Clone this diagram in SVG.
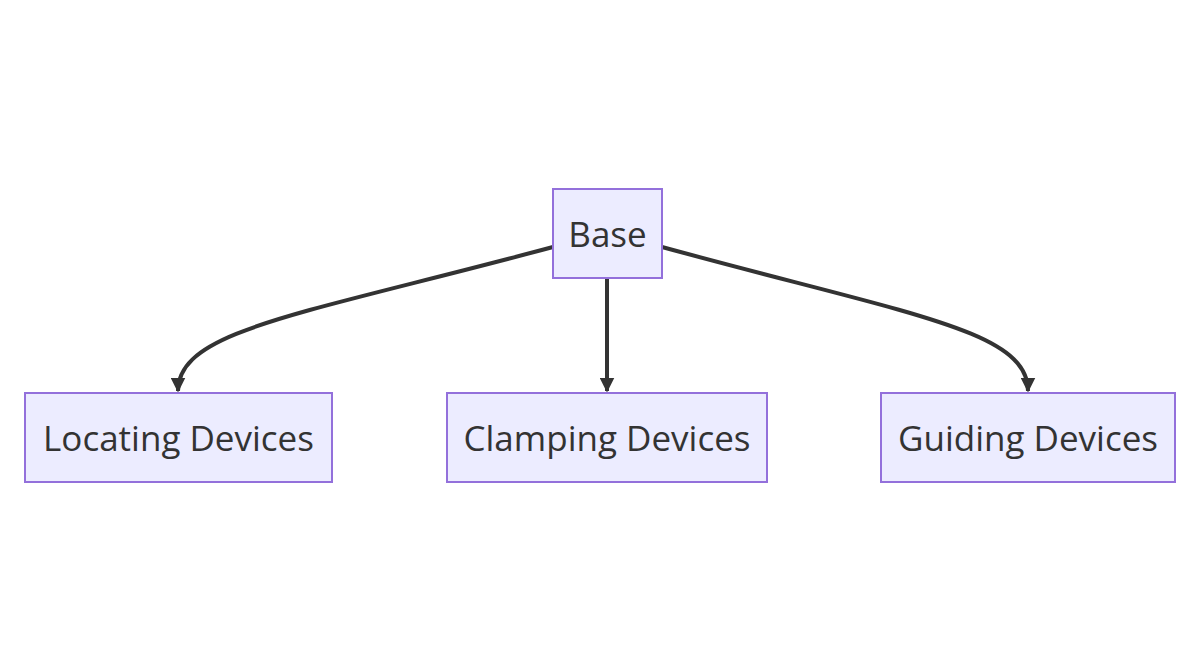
<svg xmlns="http://www.w3.org/2000/svg" width="1200" height="666" viewBox="0 0 1200 666">
<style>
.node rect{fill:#ECECFF;stroke:#9370DB;stroke-width:2}
.node text{font-family:"Open Sans","DejaVu Sans",sans-serif;font-size:35px;fill:#333;text-anchor:middle;dominant-baseline:central}
.edge{fill:none;stroke:#333;stroke-width:4}
</style>
<defs>
<marker id="arrow" viewBox="0 0 10 10" refX="9" refY="5" markerUnits="userSpaceOnUse" markerWidth="15" markerHeight="15" orient="auto">
<path d="M0,0 L10,5 L0,10 z" fill="#333"/>
</marker>
</defs>
<rect width="1200" height="666" fill="#fff"/>
<g id="connectors">
<path class="edge" d="M553,247 C300,315 178,330 178,391" marker-end="url(#arrow)"/>
<path class="edge" d="M607,278 L607,391" marker-end="url(#arrow)"/>
<path class="edge" d="M662,247 C910,315 1028,330 1028,391" marker-end="url(#arrow)"/>
</g>
<g id="base" class="node"><rect x="553" y="189" width="109" height="89"/><text x="607.5" y="233">Base</text></g>
<g id="locating" class="node"><rect x="25" y="393" width="307" height="89"/><text x="178.5" y="437">Locating Devices</text></g>
<g id="clamping" class="node"><rect x="447" y="393" width="320" height="89"/><text x="607" y="437">Clamping Devices</text></g>
<g id="guiding" class="node"><rect x="881" y="393" width="294" height="89"/><text x="1028" y="437">Guiding Devices</text></g>
</svg>
